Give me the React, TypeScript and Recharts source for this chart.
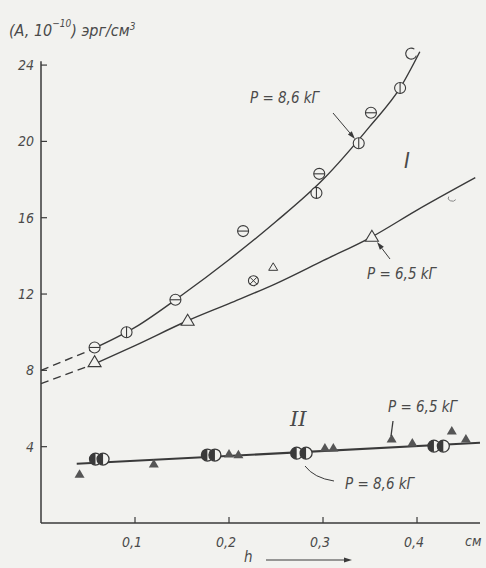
import { ComposedChart, Line, Scatter, XAxis, YAxis, ReferenceLine } from "recharts";

const INK = "#3a3a3a";
const TEXT = "#4a4a4a";
const PAPER = "#f2f2ef";
const FONT = "'DejaVu Sans Condensed', 'DejaVu Sans', sans-serif";

const xTicks = [0.1, 0.2, 0.3, 0.4];
const yTicks = [4, 8, 12, 16, 20, 24];

// curve I, P = 8,6 kG (circles)
const upperDash = [{ x: 0, y: 8.0 }, { x: 0.052, y: 9.05 }];
const upperCurve = [
  { x: 0.052, y: 9.05 }, { x: 0.1, y: 10.25 }, { x: 0.15, y: 11.95 }, { x: 0.2, y: 13.8 },
  { x: 0.25, y: 15.8 }, { x: 0.3, y: 18.0 }, { x: 0.35, y: 20.8 }, { x: 0.382, y: 22.8 },
  { x: 0.403, y: 24.7 },
];
const upperBarV = [{ x: 0.091, y: 10.0 }, { x: 0.293, y: 17.3 }, { x: 0.338, y: 19.9 }, { x: 0.382, y: 22.8 }];
const upperBarH = [{ x: 0.057, y: 9.2 }, { x: 0.143, y: 11.7 }, { x: 0.215, y: 15.3 }, { x: 0.296, y: 18.3 }, { x: 0.351, y: 21.5 }];
const upperOpen = [{ x: 0.394, y: 24.6 }];

// curve I, P = 6,5 kG (triangles)
const lowerDash = [{ x: 0, y: 7.3 }, { x: 0.055, y: 8.3 }];
const lowerCurve = [
  { x: 0.055, y: 8.3 }, { x: 0.1, y: 9.3 }, { x: 0.156, y: 10.6 }, { x: 0.2, y: 11.5 },
  { x: 0.25, y: 12.55 }, { x: 0.3, y: 13.75 }, { x: 0.352, y: 15.0 }, { x: 0.4, y: 16.4 },
  { x: 0.462, y: 18.1 },
];
const lowerTri = [{ x: 0.057, y: 8.43 }, { x: 0.156, y: 10.6 }, { x: 0.352, y: 15.0 }];
const lowerTriSmall = [{ x: 0.247, y: 13.4 }];
const lowerCross = [{ x: 0.226, y: 12.7 }];
const lowerFaint = [{ x: 0.438, y: 17.0 }];

// curve II
const lineII = [{ x: 0.038, y: 3.1 }, { x: 0.467, y: 4.2 }];
const halfCircles = [
  { x: 0.058, y: 3.35 }, { x: 0.066, y: 3.35 }, { x: 0.177, y: 3.56 }, { x: 0.185, y: 3.56 },
  { x: 0.272, y: 3.66 }, { x: 0.282, y: 3.66 }, { x: 0.418, y: 4.03 }, { x: 0.428, y: 4.03 },
];
const filledTri = [
  { x: 0.041, y: 2.56 }, { x: 0.12, y: 3.09 }, { x: 0.2, y: 3.62 }, { x: 0.21, y: 3.58 },
  { x: 0.302, y: 3.93 }, { x: 0.311, y: 3.93 }, { x: 0.373, y: 4.4 }, { x: 0.395, y: 4.19 },
  { x: 0.437, y: 4.82 }, { x: 0.452, y: 4.4 },
];

const fmt = (v: number) => String(v).replace(".", ",");

const YTick = (p: any) => (
  <g>
    <line x1={p.x} x2={p.x + 6} y1={p.y} y2={p.y} stroke={INK} strokeWidth={1.2} />
    <text x={p.x - 7} y={p.y + 5} textAnchor="end" fontFamily={FONT} fontStyle="italic" fontSize={14} fill={TEXT}>
      {p.payload.value}
    </text>
  </g>
);

const XTick = (p: any) => (
  <g>
    <line x1={p.x} x2={p.x} y1={p.y} y2={p.y - 6} stroke={INK} strokeWidth={1.2} />
    <text x={p.x - 3} y={p.y + 24} textAnchor="middle" fontFamily={FONT} fontStyle="italic" fontSize={14} fill={TEXT}>
      {fmt(p.payload.value)}
    </text>
  </g>
);

const barCircle = (vertical: boolean) => (p: any) => (
  <g>
    <circle cx={p.cx} cy={p.cy} r={5.5} fill={PAPER} stroke={INK} strokeWidth={1.1} />
    {vertical ? (
      <line x1={p.cx} x2={p.cx} y1={p.cy - 5.5} y2={p.cy + 5.5} stroke={INK} strokeWidth={1.1} />
    ) : (
      <line x1={p.cx - 5.5} x2={p.cx + 5.5} y1={p.cy} y2={p.cy} stroke={INK} strokeWidth={1.1} />
    )}
  </g>
);

const openCircle = (p: any) => (
  <path d={`M ${p.cx + 3} ${p.cy - 4.5} A 5.5 5.5 0 1 0 ${p.cx + 5} ${p.cy + 2}`} fill="none" stroke={INK} strokeWidth={1.1} />
);

const faintArc = (p: any) => (
  <path d={`M ${p.cx - 4} ${p.cy - 2} A 4 3 0 0 0 ${p.cx + 3} ${p.cy + 1}`} fill="none" stroke="#888" strokeWidth={1} />
);

const crossCircle = (p: any) => (
  <g>
    <circle cx={p.cx} cy={p.cy} r={5} fill={PAPER} stroke={INK} strokeWidth={1.1} />
    <line x1={p.cx - 3.5} x2={p.cx + 3.5} y1={p.cy - 3.5} y2={p.cy + 3.5} stroke={INK} strokeWidth={1} />
    <line x1={p.cx - 3.5} x2={p.cx + 3.5} y1={p.cy + 3.5} y2={p.cy - 3.5} stroke={INK} strokeWidth={1} />
  </g>
);

const openTri = (p: any) => (
  <polygon
    points={`${p.cx},${p.cy - 6.5} ${p.cx - 6.5},${p.cy + 4.5} ${p.cx + 6.5},${p.cy + 4.5}`}
    fill={PAPER}
    stroke={INK}
    strokeWidth={1.1}
  />
);

const smallOpenTri = (p: any) => (
  <polygon
    points={`${p.cx},${p.cy - 4.5} ${p.cx - 4.5},${p.cy + 3} ${p.cx + 4.5},${p.cy + 3}`}
    fill={PAPER}
    stroke={INK}
    strokeWidth={1}
  />
);

const halfCircle = (p: any) => (
  <g>
    <circle cx={p.cx} cy={p.cy} r={6} fill={PAPER} stroke={INK} strokeWidth={1.3} />
    <path d={`M ${p.cx} ${p.cy - 6} A 6 6 0 0 0 ${p.cx} ${p.cy + 6} Z`} fill={INK} />
  </g>
);

const filledTriangle = (p: any) => (
  <polygon points={`${p.cx},${p.cy - 5} ${p.cx - 5},${p.cy + 3.5} ${p.cx + 5},${p.cy + 3.5}`} fill="#555" />
);

const Arrow = ({ x1, y1, x2, y2 }: { x1: number; y1: number; x2: number; y2: number }) => {
  const a = Math.atan2(y2 - y1, x2 - x1);
  const l = 8;
  const w = 2.5;
  const bx = x2 - l * Math.cos(a);
  const by = y2 - l * Math.sin(a);
  return (
    <g>
      <line x1={x1} y1={y1} x2={bx} y2={by} stroke={INK} strokeWidth={1} />
      <polygon
        points={`${x2},${y2} ${bx + w * Math.sin(a)},${by - w * Math.cos(a)} ${bx - w * Math.sin(a)},${by + w * Math.cos(a)}`}
        fill={INK}
      />
    </g>
  );
};

const label = { fontFamily: FONT, fontStyle: "italic" as const, fontSize: 15, fill: TEXT };

export default function App() {
  return (
    <div style={{ position: "fixed", left: 0, top: 0, width: 486, height: 568, background: PAPER }}>
      <ComposedChart width={486} height={568} margin={{ top: 46, right: 6, bottom: 15, left: 0 }}>
        <XAxis
          type="number"
          dataKey="x"
          domain={[0, 0.467]}
          ticks={xTicks}
          height={30}
          tickSize={0}
          tickMargin={0}
          tickLine={false}
          tick={XTick}
          axisLine={{ stroke: INK, strokeWidth: 1.5 }}
        />
        <YAxis
          type="number"
          dataKey="y"
          domain={[0, 25]}
          ticks={yTicks}
          width={41}
          tickSize={0}
          tickMargin={0}
          tickLine={false}
          tick={YTick}
          axisLine={false}
        />
        <ReferenceLine segment={[{ x: 0, y: 0 }, { x: 0, y: 24.2 }]} stroke={INK} strokeWidth={1.5} />

        <Line data={upperDash} dataKey="y" type="linear" stroke={INK} strokeWidth={1.4} strokeDasharray="8 5" dot={false} isAnimationActive={false} />
        <Line data={upperCurve} dataKey="y" type="monotone" stroke={INK} strokeWidth={1.4} dot={false} isAnimationActive={false} />
        <Line data={lowerDash} dataKey="y" type="linear" stroke={INK} strokeWidth={1.4} strokeDasharray="8 5" dot={false} isAnimationActive={false} />
        <Line data={lowerCurve} dataKey="y" type="monotone" stroke={INK} strokeWidth={1.4} dot={false} isAnimationActive={false} />
        <Line data={lineII} dataKey="y" type="linear" stroke={INK} strokeWidth={2} dot={false} isAnimationActive={false} />

        <Scatter data={upperBarV} dataKey="y" shape={barCircle(true)} isAnimationActive={false} />
        <Scatter data={upperBarH} dataKey="y" shape={barCircle(false)} isAnimationActive={false} />
        <Scatter data={upperOpen} dataKey="y" shape={openCircle} isAnimationActive={false} />
        <Scatter data={lowerTri} dataKey="y" shape={openTri} isAnimationActive={false} />
        <Scatter data={lowerTriSmall} dataKey="y" shape={smallOpenTri} isAnimationActive={false} />
        <Scatter data={lowerCross} dataKey="y" shape={crossCircle} isAnimationActive={false} />
        <Scatter data={lowerFaint} dataKey="y" shape={faintArc} isAnimationActive={false} />
        <Scatter data={filledTri} dataKey="y" shape={filledTriangle} isAnimationActive={false} />
        <Scatter data={halfCircles} dataKey="y" shape={halfCircle} isAnimationActive={false} />
      </ComposedChart>

      <svg width={486} height={568} style={{ position: "absolute", left: 0, top: 0, pointerEvents: "none" }}>
        <text x={9} y={36} {...label} fontSize={16}>
          (A, 10
          <tspan dy={-9} fontSize={10}>−10</tspan>
          <tspan dy={9} fontSize={16}>) эрг/см</tspan>
          <tspan dy={-6} fontSize={10}>3</tspan>
        </text>

        <text x={250} y={103} {...label}>P = 8,6 kГ</text>
        <Arrow x1={333} y1={113} x2={355} y2={139} />
        <text x={404} y={168} {...label} fontSize={22}>I</text>

        <text x={367} y={279} {...label}>P = 6,5 kГ</text>
        <Arrow x1={390} y1={259} x2={377} y2={242} />

        <text x={290} y={426} {...label} fontSize={21} fontFamily="'DejaVu Serif', serif">II</text>
        <text x={388} y={412} {...label}>P = 6,5 kГ</text>
        <line x1={393} y1={421} x2={391} y2={436} stroke={INK} strokeWidth={1.3} />

        <text x={345} y={489} {...label}>P = 8,6 kГ</text>
        <path d="M 334 481 Q 314 478 305 466" fill="none" stroke={INK} strokeWidth={1} />

        <text x={465} y={546} {...label} fontSize={14}>см</text>
        <text x={244} y={562} {...label} fontSize={15}>h</text>
        <Arrow x1={266} y1={560} x2={352} y2={560} />
      </svg>
    </div>
  );
}
